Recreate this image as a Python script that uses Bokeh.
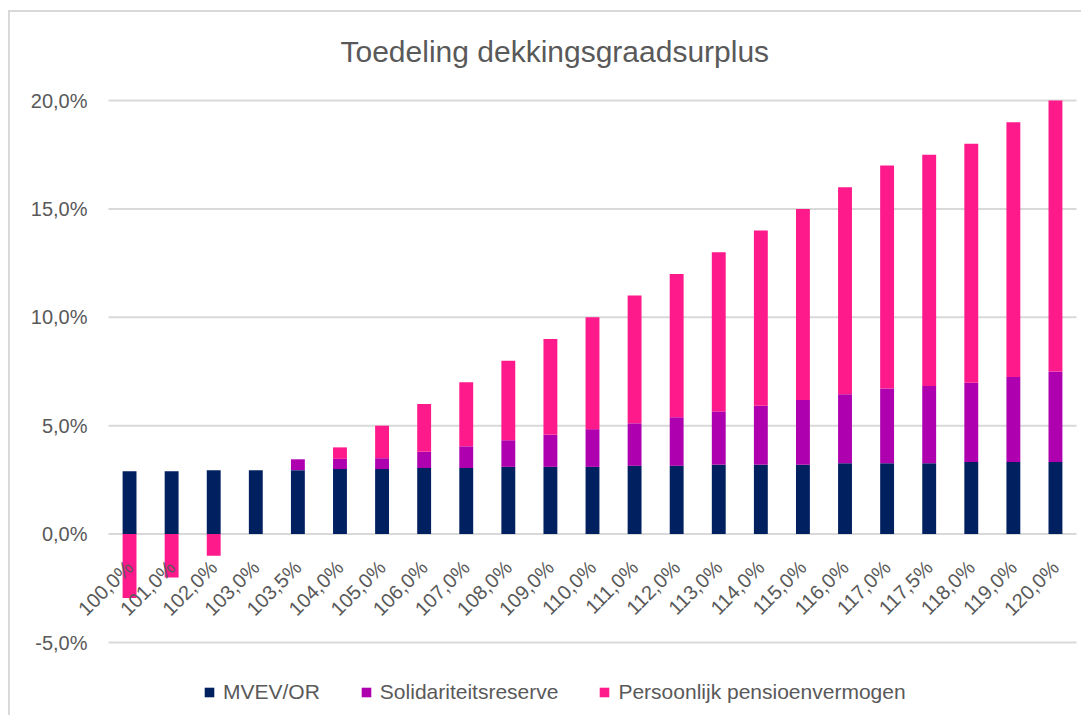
import numpy as np
from math import pi
from bokeh.plotting import figure
from bokeh.models import Range1d, Legend, LegendItem, ColumnDataSource
from bokeh.core.properties import value
from bokeh.embed import file_html
from bokeh.resources import INLINE

# ---- data ----
categories = ["100,0%", "101,0%", "102,0%", "103,0%", "103,5%", "104,0%", "105,0%",
              "106,0%", "107,0%", "108,0%", "109,0%", "110,0%", "111,0%", "112,0%",
              "113,0%", "114,0%", "115,0%", "116,0%", "117,0%", "117,5%", "118,0%",
              "119,0%", "120,0%"]
mvev_or = [2.9, 2.9, 2.95, 2.95, 2.95, 3.0, 3.0, 3.05, 3.05, 3.1, 3.1, 3.1, 3.15, 3.15,
           3.2, 3.2, 3.2, 3.27, 3.27, 3.27, 3.32, 3.32, 3.32]
solidariteitsreserve = [0.0, 0.0, 0.0, 0.0, 0.5, 0.47, 0.5, 0.75, 1.0, 1.23, 1.48, 1.74,
                        1.96, 2.24, 2.46, 2.72, 2.98, 3.18, 3.45, 3.56, 3.66, 3.93, 4.18]
persoonlijk_pensioenvermogen = [-2.95, -2.0, -1.0, 0.0, 0.0, 0.53, 1.5, 2.2, 2.95, 3.67,
                                4.42, 5.16, 5.89, 6.61, 7.34, 8.08, 8.82, 9.55, 10.28,
                                10.67, 11.02, 11.75, 12.5]
series_names = ["MVEV/OR", "Solidariteitsreserve", "Persoonlijk pensioenvermogen"]
series_colors = ["#002060", "#AE00AE", "#FF1A8C"]
y_ticks = [-5, 0, 5, 10, 15, 20]
y_tick_labels = ["-5,0%", "0,0%", "5,0%", "10,0%", "15,0%", "20,0%"]
title_text = "Toedeling dekkingsgraadsurplus"

FONT = "Liberation Sans"
GREY = "#595959"

n = len(categories)
xs = np.arange(n)  # category slot positions

# layout in pixels: plot area is 968 x 542; the frame is widened so that the
# rotated category labels and the value labels are not clipped
PLOT_W, PLOT_H = 968, 542
LEFT_PX, RIGHT_PX = 96, 5      # extra frame room left / right of the category slots
TOP_PX, BOTTOM_PX = 15, 70     # extra frame room above 20% / below -5% (legend)
px_x = PLOT_W / n
y_min, y_max = y_ticks[0], y_ticks[-1]
px_y = PLOT_H / (y_max - y_min)

x_range = Range1d(-0.5 - LEFT_PX / px_x, n - 0.5 + RIGHT_PX / px_x)
y_range = Range1d(y_min - BOTTOM_PX / px_y, y_max + TOP_PX / px_y)

p = figure(x_range=x_range, y_range=y_range,
           frame_width=PLOT_W + LEFT_PX + RIGHT_PX, frame_height=PLOT_H + TOP_PX + BOTTOM_PX,
           min_border_left=2, min_border_right=0, min_border_top=73, min_border_bottom=3,
           output_backend="svg", toolbar_location=None, title=title_text)
p.styles = {"border-left": "2px solid #d9d9d9", "border-top": "2px solid #d9d9d9",
            "margin-left": "8px", "margin-top": "10px"}

p.title.align = "left"
p.title.offset = 328
p.title.text_font = FONT
p.title.text_font_size = "30px"
p.title.text_font_style = "normal"
p.title.text_color = GREY
p.title.standoff = 35

p.outline_line_color = None
p.background_fill_color = "white"
p.border_fill_color = "white"
p.xaxis.visible = False
p.yaxis.visible = False
p.xgrid.visible = False
p.ygrid.visible = False

# horizontal gridlines across the category slots
p.segment(x0=[-0.5] * len(y_ticks), x1=[n - 0.5] * len(y_ticks), y0=y_ticks, y1=y_ticks,
          line_color="#d9d9d9", line_width=2)

# value labels
p.text(x=[-0.5] * len(y_ticks), y=y_ticks, text=y_tick_labels, x_offset=-21,
       text_align="right", text_baseline="middle",
       text_font=value(FONT), text_font_size="20px", text_color=GREY)

# stacked bars (positive values stack upward, negative downward)
pos_base = np.zeros(n)
neg_base = np.zeros(n)
renderers = []
for vals, name, col in zip([mvev_or, solidariteitsreserve, persoonlijk_pensioenvermogen],
                           series_names, series_colors):
    v = np.array(vals, dtype=float)
    bottom = np.where(v >= 0, pos_base, neg_base)
    top = bottom + v
    pos_base = np.where(v >= 0, top, pos_base)
    neg_base = np.where(v < 0, top, neg_base)
    src = ColumnDataSource(dict(x=xs, bottom=bottom, top=top))
    r = p.vbar(x="x", bottom="bottom", top="top", width=0.33, source=src,
               fill_color=col, line_color=None)
    renderers.append(r)

# category labels at the zero line, rotated
lab_src = ColumnDataSource(dict(x=xs, y=np.zeros(n), t=categories))
p.text(x="x", y="y", text="t", source=lab_src, angle=pi / 4,
       text_align="right", text_baseline="middle", x_offset=0, y_offset=30,
       text_font=value(FONT), text_font_size="20px", text_color=GREY)

legend = Legend(items=[LegendItem(label=nm, renderers=[r]) for nm, r in zip(series_names, renderers)],
                orientation="horizontal", location=(LEFT_PX + 95, 8),
                glyph_width=12, glyph_height=12, label_standoff=8, spacing=40,
                label_text_font=FONT, label_text_font_size="21px", label_text_color=GREY,
                border_line_color=None, background_fill_alpha=0, padding=0, margin=0)
p.add_layout(legend, "center")

open("out.html", "w").write(file_html(p, INLINE))
